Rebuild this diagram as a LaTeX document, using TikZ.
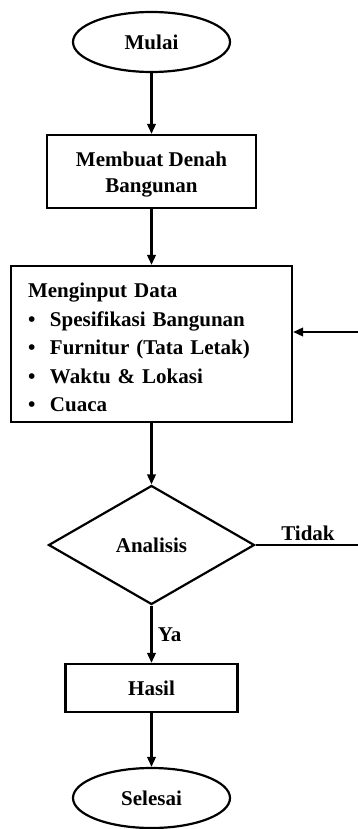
\documentclass[tikz,border=0pt]{standalone}
\usepackage{fontspec}
\setmainfont{Liberation Serif}
\usetikzlibrary{shapes.geometric,arrows.meta}

\begin{document}
\begin{tikzpicture}[x=1pt,y=-1pt,line width=2.2pt,
      >={Triangle[length=10pt,width=8.5pt]},
      font=\fontsize{21}{26}\selectfont\bfseries,
      terminal/.style={ellipse, draw, minimum width=157pt, minimum height=60pt, inner sep=0pt},
      process/.style={rectangle, draw, inner sep=0pt},
      decision/.style={diamond, draw, minimum width=206pt, minimum height=119pt, inner sep=0pt}]
      \useasboundingbox (0,0) rectangle (357,829);

      \node at (151.5,42)  [terminal] (mulai) {Mulai};
      \node at (151.5,171.5) [process, minimum width=209pt, minimum height=73pt, align=center] (denah)
            {\rule{0pt}{21pt}Membuat Denah\\Bangunan};
      \node at (151.5,344) [process, minimum width=281pt, minimum height=156pt, text width=247pt, align=left,
            font=\fontsize{21}{28.5}\selectfont\bfseries] (input)
            {\rule{0pt}{22pt}Menginput Data\\
             \makebox[22pt][l]{\textbullet}Spesifikasi Bangunan\\
             \makebox[22pt][l]{\textbullet}Furnitur (Tata Letak)\\
             \makebox[22pt][l]{\textbullet}Waktu \& Lokasi\\
             \makebox[22pt][l]{\textbullet}Cuaca};
      \node at (151.5,545) [decision] (analisis) {Analisis};
      \node at (151.5,688) [process, minimum width=172pt, minimum height=48pt] (hasil) {Hasil};
      \node at (151.5,798) [terminal] (selesai) {Selesai};

      \draw[->] (mulai)   --(denah);
      \draw[->] (denah)   --(input);
      \draw[->] (input)   --(analisis);
      \draw[->] (analisis)--node[right, xshift=2pt] (ya) {Ya} (hasil);
      \draw[->] (hasil)   --(selesai);

      % kembali ke input data (garis tegak di luar gambar)
      \coordinate (turn) at (372,545);
      \coordinate (back) at (372,332);
      \draw[->] (analisis.east)--node[above, pos=0.45] (tidak) {Tidak} (turn)--(back)--(back -| input.east);
    \end{tikzpicture}
\end{document}
